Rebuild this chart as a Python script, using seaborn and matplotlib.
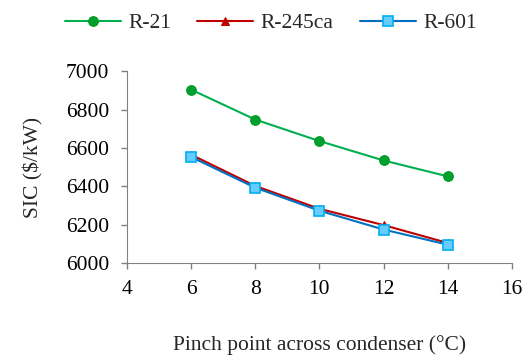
import pandas as pd
import seaborn as sns
import matplotlib.pyplot as plt

# data
pinch = [6, 8, 10, 12, 14]
r21 = [6904, 6748, 6636, 6535, 6452]
r245ca = [6565, 6402, 6283, 6198, 6105]
r601 = [6553, 6393, 6273, 6175, 6096]

sns.set_style("ticks")
plt.rcParams['font.family'] = ['Liberation Serif', 'DejaVu Serif']
fs = 15.5

fig = plt.figure(figsize=(5.26, 3.56), dpi=100)
ax = fig.add_axes([0.2414, 0.261, 0.7316, 0.539])

df = pd.DataFrame({"x": pinch, "R-21": r21, "R-245ca": r245ca, "R-601": r601})

sns.lineplot(data=df, x="x", y="R-21", ax=ax, color="#00B050", lw=1.5,
             marker="o", markersize=7, markerfacecolor="#00A030",
             markeredgecolor="#009A20", label="R-21")
sns.lineplot(data=df, x="x", y="R-245ca", ax=ax, color="#C00000", lw=1.5,
             marker="^", markersize=5.5, markerfacecolor="#C00000",
             markeredgecolor="#C00000", label="R-245ca")
sns.lineplot(data=df, x="x", y="R-601", ax=ax, color="#0070C0", lw=1.5,
             marker="s", markersize=6.5, markerfacecolor="#66CCFF",
             markeredgecolor="#00B0F0", markeredgewidth=1.2, label="R-601")

ax.set_xlim(4, 16)
ax.set_ylim(6000, 7000)
ax.set_xticks(range(4, 17, 2))
ax.set_yticks(range(6000, 7001, 200))
ax.tick_params(colors="#808080", labelcolor="black", labelsize=fs, length=4, width=1)
ax.tick_params(axis="y", pad=9)
ax.tick_params(axis="x", pad=8)
for s in ["left", "bottom"]:
    ax.spines[s].set_color("#808080")
sns.despine(ax=ax)

ax.set_xlabel("Pinch point across condenser (°C)", fontsize=fs, labelpad=26)
ax.set_ylabel("SIC ($/kW)", fontsize=fs, labelpad=16)

h, l = ax.get_legend_handles_labels()
ax.legend(h, l, loc="center", bbox_to_anchor=(0.515, 0.935), bbox_transform=fig.transFigure,
          ncol=3, frameon=False, fontsize=fs, handlelength=2.6, columnspacing=1.2,
          handletextpad=0.35)

fig.savefig("out.png", dpi=100)
